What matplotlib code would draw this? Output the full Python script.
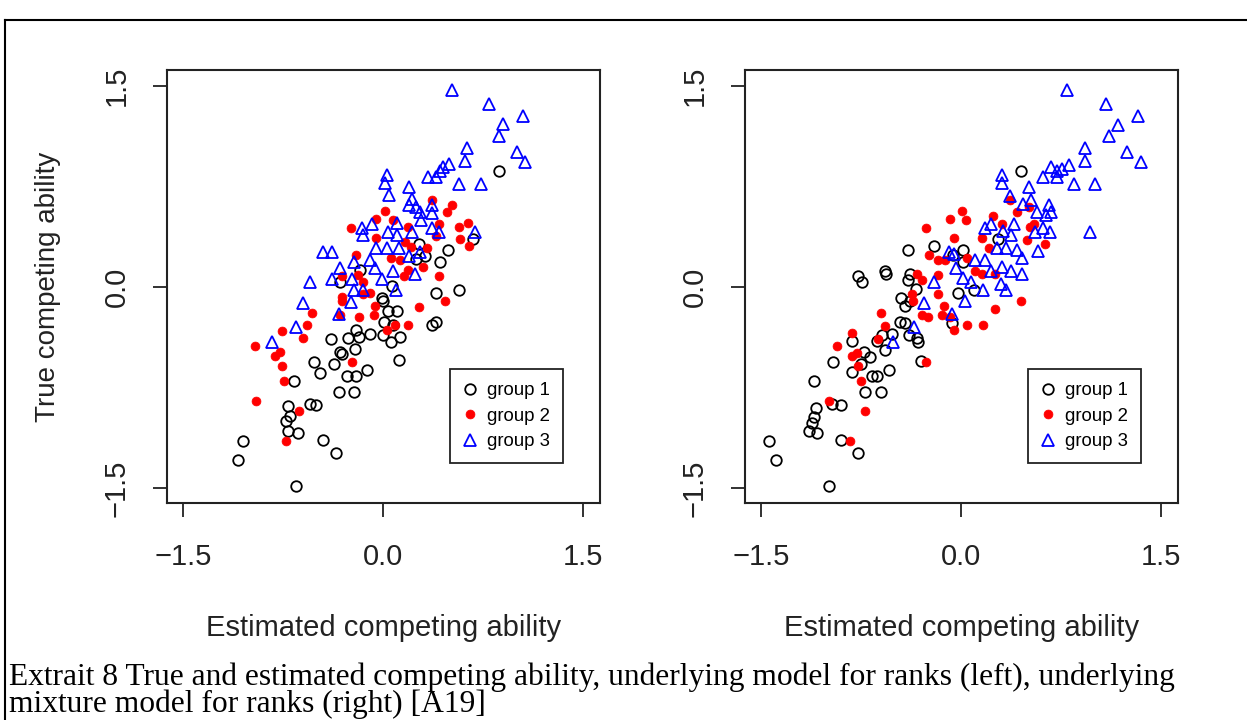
import matplotlib
matplotlib.use("Agg")
import matplotlib.pyplot as plt
from matplotlib.lines import Line2D

# tick positions / labels shared by both panels
tick_vals = [-1.5, 0.0, 1.5]
tick_text = ["\u22121.5", "0.0", "1.5"]
group_names = ["group 1", "group 2", "group 3"]

# ---- left panel: underlying model for ranks ----
g1_est_left = [0.87, 0.68, 0.49, 0.43, 0.27, 0.25, 0.32, 0.57, 0.40, 0.40, 0.37, -0.01, 0.00,
               0.04, 0.11, 0.01, 0.08, 0.00, 0.13, 0.06, 0.12, -0.10, -0.20, -0.26, -0.18,
               -0.21, -0.39, -0.32, -0.31, -0.37, -0.52, -0.47, -0.27, -0.20, -0.12, -0.33,
               -0.22, -0.67, -0.55, -0.50, -0.71, -0.70, -0.73, -0.71, -0.64, -0.45, -0.35,
               -1.05, -1.09, -0.65, -0.32, -0.17, 0.07]
g1_true_left = [0.87, 0.36, 0.28, 0.19, 0.32, 0.21, 0.23, -0.02, -0.04, -0.26, -0.28, -0.08,
                -0.10, -0.18, -0.18, -0.26, -0.28, -0.36, -0.37, -0.41, -0.54, -0.35, -0.32,
                -0.38, -0.37, -0.46, -0.39, -0.48, -0.50, -0.57, -0.56, -0.64, -0.66, -0.66,
                -0.62, -0.78, -0.78, -0.70, -0.87, -0.88, -0.89, -0.96, -1.00, -1.07, -1.09,
                -1.14, -1.24, -1.15, -1.29, -1.48, 0.04, 0.13, 0.01]

g2_est_left = [0.37, 0.52, 0.48, 0.02, -0.05, 0.08, -0.24, 0.19, 0.42, 0.57, 0.64, 0.58, 0.65,
               0.40, -0.05, 0.17, 0.21, 0.33, -0.20, 0.06, 0.13, 0.30, 0.19, 0.16, -0.19,
               -0.15, -0.31, 0.42, -0.10, -0.31, -0.31, -0.06, -0.07, -0.18, -0.53, -0.57,
               -0.60, -0.76, -0.96, -0.81, -0.77, -0.76, -0.74, -0.95, -0.63, -0.73, -0.23,
               -0.32, 0.27, 0.47, 0.19, 0.09, 0.03, -0.15]
g2_true_left = [0.65, 0.61, 0.56, 0.57, 0.51, 0.50, 0.44, 0.45, 0.47, 0.45, 0.48, 0.36, 0.31,
                0.38, 0.37, 0.34, 0.30, 0.29, 0.24, 0.22, 0.20, 0.15, 0.13, 0.08, 0.09, 0.04,
                0.08, 0.08, -0.04, -0.07, -0.10, -0.14, -0.21, -0.22, -0.19, -0.28, -0.38,
                -0.33, -0.44, -0.51, -0.48, -0.59, -0.70, -0.85, -0.92, -1.15, -0.56, -0.21,
                -0.15, -0.10, -0.28, -0.28, -0.32, -0.05]

g3_est_left = [0.52, 0.80, 1.05, 0.90, 0.87, 1.01, 1.07, 0.63, 0.62, 0.50, 0.45, 0.43, 0.40,
               0.34, 0.57, 0.74, 0.03, 0.02, 0.05, 0.20, 0.22, 0.20, 0.25, 0.37, 0.37, 0.28,
               0.29, 0.37, 0.42, 0.69, 0.22, 0.11, 0.11, 0.04, -0.08, -0.16, -0.15, -0.45,
               -0.38, -0.05, 0.03, 0.12, -0.22, -0.10, -0.32, -0.38, -0.23, -0.15, -0.22,
               -0.01, 0.08, 0.10, 0.24, 0.28, 0.20, -0.55, -0.60, -0.24, -0.33, -0.65, -0.83,
               -0.06]
g3_true_left = [1.47, 1.37, 1.28, 1.22, 1.13, 1.01, 0.93, 1.04, 0.94, 0.92, 0.90, 0.87, 0.82,
                0.82, 0.77, 0.77, 0.84, 0.78, 0.69, 0.75, 0.66, 0.61, 0.60, 0.61, 0.55, 0.56,
                0.50, 0.44, 0.41, 0.41, 0.41, 0.48, 0.39, 0.41, 0.47, 0.44, 0.39, 0.26, 0.26,
                0.29, 0.29, 0.29, 0.19, 0.20, 0.14, 0.06, 0.06, -0.02, -0.02, 0.06, 0.12,
                -0.02, 0.10, 0.26, 0.23, 0.04, -0.12, -0.11, -0.20, -0.30, -0.41, 0.14]

# ---- right panel: underlying mixture model for ranks ----
g1_est_right = [0.45, 0.28, 0.02, 0.02, -0.20, -0.40, -0.57, -0.56, -0.77, -0.74, -0.38, -0.40,
                -0.34, -0.02, 0.10, -0.45, -0.42, -0.38, -0.46, -0.42, -0.07, -0.39, -0.33,
                -0.32, -0.52, -0.59, -0.63, -0.57, -0.73, -0.68, -0.82, -0.96, -0.75, -0.82,
                -0.67, -0.63, -0.54, -0.72, -0.60, -0.30, -1.10, -0.97, -0.90, -1.09, -1.10,
                -1.12, -1.14, -1.08, -0.90, -0.77, -1.44, -1.39, -0.99, -0.06]
g1_true_right = [0.87, 0.36, 0.28, 0.19, 0.31, 0.28, 0.12, 0.10, 0.08, 0.04, 0.10, 0.05, -0.01,
                 -0.04, -0.02, -0.08, -0.14, -0.10, -0.26, -0.27, -0.27, -0.36, -0.38, -0.41,
                 -0.35, -0.36, -0.40, -0.47, -0.48, -0.52, -0.40, -0.56, -0.57, -0.63, -0.66,
                 -0.66, -0.62, -0.78, -0.78, -0.55, -0.70, -0.87, -0.88, -0.90, -0.97, -1.01,
                 -1.07, -1.09, -1.14, -1.24, -1.15, -1.29, -1.48, 0.24]

g2_est_right = [0.37, 0.42, 0.01, 0.04, -0.08, 0.24, 0.31, -0.26, -0.05, 0.55, 0.52, 0.50, 0.63,
                0.16, 0.21, 0.05, -0.24, -0.17, -0.12, 0.11, 0.16, 0.26, -0.33, -0.29, -0.17,
                -0.36, -0.37, -0.17, -0.13, -0.14, -0.25, -0.29, -0.60, -0.57, -0.62, -0.82,
                -0.93, -0.82, -0.78, -0.77, -0.75, -0.99, -0.72, -0.83, -0.26, 0.05, 0.17,
                -0.05, 0.26, 0.45, -0.08, 0.51]
g2_true_right = [0.65, 0.56, 0.57, 0.50, 0.51, 0.53, 0.47, 0.44, 0.37, 0.47, 0.45, 0.35, 0.32,
                 0.37, 0.29, 0.22, 0.24, 0.20, 0.20, 0.12, 0.10, 0.10, 0.10, 0.05, 0.09, -0.10,
                 -0.05, -0.05, -0.14, -0.21, -0.22, -0.21, -0.19, -0.29, -0.39, -0.34, -0.44,
                 -0.51, -0.49, -0.59, -0.70, -0.85, -0.92, -1.15, -0.56, -0.28, -0.28, -0.32,
                 -0.16, -0.10, -0.22, 0.60]

g3_est_right = [0.80, 1.09, 1.33, 1.18, 1.11, 1.25, 1.35, 0.93, 0.93, 0.81, 0.68, 0.72, 0.76,
                0.62, 0.72, 0.85, 1.01, 0.31, 0.31, 0.51, 0.37, 0.53, 0.47, 0.66, 0.68, 0.57,
                0.64, 0.40, 0.23, 0.18, 0.32, 0.38, 0.62, 0.67, 0.56, 0.97, 0.27, 0.34, 0.42,
                0.46, 0.58, -0.09, -0.05, 0.11, 0.18, -0.04, 0.23, 0.31, 0.38, 0.46, 0.02,
                0.08, -0.20, 0.17, 0.30, 0.34, 0.03, -0.28, -0.07, -0.35, -0.51]
g3_true_right = [1.47, 1.37, 1.28, 1.21, 1.13, 1.01, 0.93, 1.04, 0.94, 0.91, 0.90, 0.87, 0.88,
                 0.82, 0.82, 0.77, 0.77, 0.84, 0.78, 0.75, 0.68, 0.65, 0.62, 0.61, 0.56, 0.56,
                 0.54, 0.47, 0.47, 0.44, 0.42, 0.39, 0.44, 0.41, 0.41, 0.41, 0.29, 0.29, 0.28,
                 0.22, 0.27, 0.26, 0.25, 0.20, 0.20, 0.14, 0.12, 0.15, 0.12, 0.10, 0.07, 0.04,
                 0.04, -0.02, 0.02, -0.02, -0.10, -0.12, -0.20, -0.30, -0.41]

caption = ["Extrait 8 True and estimated competing ability, underlying model for ranks (left), underlying",
           "mixture model for ranks (right) [A19]"]

plt.rcParams['font.family'] = ['Liberation Sans', 'DejaVu Sans']

W, H = 1247, 720
fig = plt.figure(figsize=(W / 100, H / 100), dpi=100)


def px_box(x0, y0, x1, y1):
    # pixel box (top-left origin) -> figure fraction rect
    return [x0 / W, 1 - y1 / H, (x1 - x0) / W, (y1 - y0) / H]


def panel(rect, groups, ylabel=None):
    ax = fig.add_axes(rect)
    styles = [
        dict(marker='o', mfc='none', mec='black', ms=7.6, mew=1.3, ls='none'),
        dict(marker='o', mfc='red', mec='red', ms=6.4, mew=0.5, ls='none'),
        dict(marker='^', mfc='none', mec='blue', ms=8.2, mew=1.3, ls='none'),
    ]
    for (xs, ys), st, name in zip(groups, styles, group_names):
        ax.plot(xs, ys, label=name, **st)

    ax.set_xlim(-1.62, 1.63)
    ax.set_ylim(-1.61, 1.62)
    ax.set_xticks(tick_vals, tick_text)
    ax.set_yticks(tick_vals, tick_text, rotation=90, va='center')
    ax.tick_params(direction='out', length=10, width=1.3, labelsize=21, colors='#222222')
    ax.tick_params(axis='x', pad=19)
    ax.tick_params(axis='y', pad=16)
    for sp in ax.spines.values():
        sp.set_linewidth(1.5)
        sp.set_color('#222222')

    ax.set_xlabel("Estimated competing ability", fontsize=21, va='center', color='#222222')
    ax.xaxis.set_label_coords(0.5, -0.289)
    if ylabel:
        ax.set_ylabel(ylabel, fontsize=20, va='center', color='#222222')
        ax.yaxis.set_label_coords(-0.275, 0.5)

    leg = ax.legend(loc='lower right', bbox_to_anchor=(0.915, 0.092), fontsize=13.4,
                    fancybox=False, framealpha=1, edgecolor='#222222', borderpad=0.7,
                    handlelength=0.8, handletextpad=0.5, labelspacing=0.45, borderaxespad=0)
    leg.get_frame().set_linewidth(1.3)
    return ax


ax_l = panel(px_box(167, 70, 600, 503),
             [(g1_est_left, g1_true_left), (g2_est_left, g2_true_left), (g3_est_left, g3_true_left)],
             ylabel="True competing ability")
ax_r = panel(px_box(745, 70, 1178, 503),
             [(g1_est_right, g1_true_right), (g2_est_right, g2_true_right), (g3_est_right, g3_true_right)])

# page frame (left and top edges)
fig.add_artist(Line2D([5 / W, 5 / W], [0, 1 - 20 / H], color='black', lw=1.5))
fig.add_artist(Line2D([5 / W, 1], [1 - 20 / H, 1 - 20 / H], color='black', lw=1.5))

# caption: two lines, first one sized to (nearly) span the page width
serif = ['Liberation Serif', 'DejaVu Serif']
cap1 = fig.text(9 / W, 1 - 685 / H, caption[0], family=serif, fontsize=19, va='baseline', ha='left')
fig.canvas.draw()
fs = 0.95 * 19 * (1228 / cap1.get_window_extent().width)
cap1.set_fontsize(fs)
fig.text(9 / W, 1 - 712 / H, caption[1], family=serif, fontsize=fs, va='baseline', ha='left')

fig.savefig("out.png", dpi=100)
